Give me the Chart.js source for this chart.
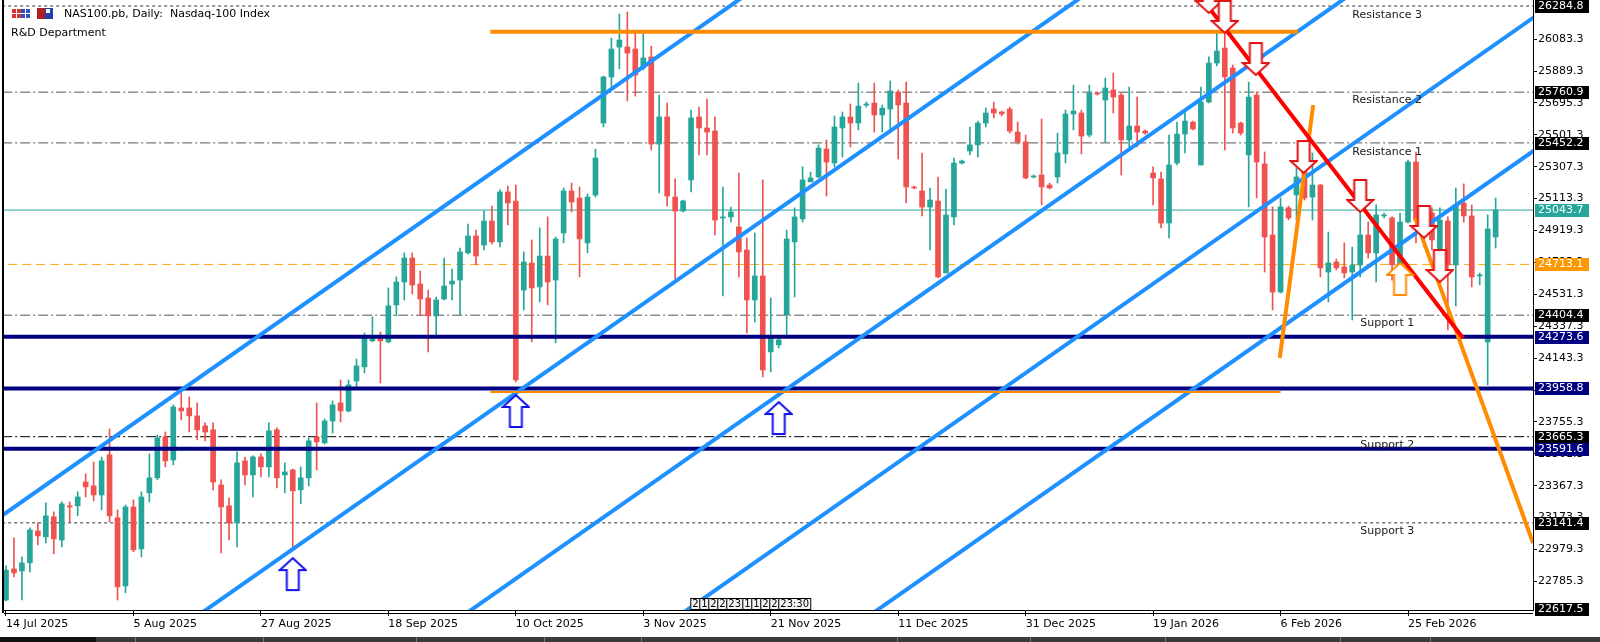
<!DOCTYPE html>
<html>
<head>
<meta charset="utf-8">
<script src="https://cdn.jsdelivr.net/npm/chart.js@4.4.1/dist/chart.umd.min.js"></script>
<style>
  html, body { margin: 0; padding: 0; background: #fff; overflow: hidden; }
  #wrap { width: 1600px; height: 642px; position: relative; }
</style>
</head>
<body>
<div id="wrap"><canvas id="chart" width="1600" height="642"></canvas></div>
<script>
// x axis labels, one every 16 bars
const dateLabels = ['14 Jul 2025','5 Aug 2025','27 Aug 2025','18 Sep 2025','10 Oct 2025','3 Nov 2025',
  '21 Nov 2025','11 Dec 2025','31 Dec 2025','19 Jan 2026','6 Feb 2026','25 Feb 2026'];
const labelBars = [0,16,32,48,64,80,96,112,128,144,160,176];

// price scale ticks
const priceTicks = [22785.3,22979.3,23173.3,23367.3,23561.3,23755.3,23949.3,24143.3,24337.3,
  24531.3,24725.3,24919.3,25113.3,25307.3,25501.3,25695.3,25889.3,26083.3];

// daily NAS100 candles
const opens = [22672,22861,22849,22898,23092,23056,23178,23037,23245,23245,
  23390,23366,23311,23555,23172,22758,23238,22983,23324,23415,
  23664,23524,23840,23840,23792,23731,23707,23372,23245,23141,
  23518,23433,23542,23482,23707,23433,23463,23342,23415,23664,
  23628,23761,23871,23822,24004,24090,24248,24260,24242,24467,
  24606,24752,24594,24509,24400,24503,24594,24618,24783,24886,
  24831,24977,24850,25154,25099,24557,24722,24576,24764,24618,
  24904,25160,25117,24844,25135,25573,25853,26035,26035,26023,
  25908,25975,25445,25610,25123,25038,25227,25610,25543,25525,
  24995,25002,24941,24801,24497,24643,24181,24224,24406,24850,
  24990,25215,25245,25415,25330,25543,25610,25573,25682,25695,
  25622,25658,25762,25695,25184,25160,25062,25099,24661,25002,
  25330,25403,25440,25573,25658,25640,25658,25518,25458,25245,
  25257,25196,25245,25385,25628,25634,25500,25756,25713,25774,
  25743,25470,25555,25524,25269,25233,24965,25330,25506,25579,
  25318,25701,25938,26029,25908,25573,25379,25743,25324,24892,
  24545,25057,25136,25366,25123,25196,24667,24728,24698,24667,
  24710,24892,24783,25008,24996,24710,24971,25336,25032,25026,
  24710,24977,24710,25087,25008,24643,24241,24880];
const highs = [22880,23050,22934,23111,23141,23263,23208,23269,23269,23330,
  23439,23512,23542,23713,23220,23250,23281,23330,23561,23676,
  23694,23859,23932,23907,23871,23749,23749,23403,23293,23573,
  23542,23549,23561,23749,23719,23506,23469,23482,23658,23871,
  23773,23883,24010,24010,24138,24296,24394,24302,24570,24637,
  24783,24783,24673,24557,24515,24752,24685,24813,24959,24922,
  25038,25068,25166,25190,25196,24789,24862,24935,25002,24880,
  25178,25208,25184,25142,25415,25859,26090,26236,26248,26120,
  26120,26041,25743,25695,25233,25105,25652,25670,25719,25610,
  25184,25062,25269,24874,24904,25227,24509,24278,24922,25057,
  25306,25275,25440,25470,25616,25640,25689,25816,25701,25816,
  25683,25829,25774,25822,25190,25391,25178,25245,25172,25360,
  25348,25549,25585,25664,25701,25646,25670,25579,25500,25257,
  25598,25208,25512,25652,25804,25652,25804,25762,25847,25877,
  25756,25792,25731,25531,25306,25275,25500,25579,25640,25585,
  25792,25975,26126,26126,25926,25579,25822,25762,25397,25063,
  25117,25068,25300,25440,25391,25200,24910,24746,24844,24819,
  25032,24971,25075,25026,25002,25026,25348,25397,25040,25057,
  25057,25002,25178,25203,25075,24661,25014,25117];
const lows = [22666,22813,22672,22843,23007,23019,22953,22995,23147,23184,
  23299,23275,23220,23147,22672,22716,22965,22934,23269,23403,
  23482,23494,23767,23694,23646,23640,23342,22958,23037,22995,
  23372,23299,23421,23421,23354,23324,22995,23257,23366,23463,
  23621,23688,23755,23816,23968,24053,24242,23992,24236,24400,
  24497,24533,24400,24181,24284,24497,24497,24406,24777,24710,
  24801,24837,24819,24953,23998,24436,24242,24485,24467,24236,
  24844,25032,24637,24783,25123,25549,25792,25902,25707,25737,
  25896,25409,25148,25068,24625,25032,25154,25379,25379,24892,
  24521,24971,24637,24296,24363,24029,24059,24205,24272,24515,
  24971,25215,25239,25129,25306,25366,25427,25531,25670,25518,
  25518,25531,25354,25087,25172,25008,24801,24631,24661,24953,
  25324,25379,25366,25549,25604,25616,25512,25445,25233,25239,
  25075,25172,25208,25330,25531,25385,25488,25743,25458,25634,
  25257,25427,25427,25506,25075,24935,24874,25318,25391,25531,
  25318,25695,25920,25409,25512,25500,25063,25117,24667,24436,
  24539,24983,24983,25105,24983,24637,24485,24679,24631,24375,
  24637,24752,24606,24996,24618,24679,24965,24844,24819,24801,
  24637,24314,24460,24971,24576,24588,23980,24813];
const closes = [22854,22837,22898,23098,23062,23184,23044,23257,23238,23299,
  23360,23311,23518,23184,22752,23238,22977,23299,23415,23658,
  23518,23846,23822,23792,23707,23694,23390,23238,23141,23506,
  23433,23542,23482,23701,23415,23451,23336,23415,23640,23634,
  23761,23859,23822,23980,24096,24266,24260,24248,24461,24606,
  24752,24588,24503,24400,24497,24582,24612,24789,24886,24764,
  24977,24850,25154,25087,24010,24728,24570,24764,24606,24868,
  25160,25093,24868,25123,25360,25853,26023,26078,25999,25865,
  25969,25445,25610,25129,25038,25099,25604,25543,25518,24983,
  25002,25032,24789,24497,24643,24071,24266,24254,24868,25002,
  25227,25239,25421,25336,25549,25610,25573,25676,25689,25622,
  25664,25768,25683,25184,25178,25062,25105,24637,25014,25330,
  25342,25440,25573,25634,25634,25628,25524,25458,25239,25251,
  25184,25178,25391,25628,25646,25494,25756,25749,25786,25731,
  25470,25555,25518,25512,25239,24965,25318,25506,25585,25537,
  25701,25938,26011,25853,25543,25512,25731,25336,24880,24545,
  25063,24996,25245,25117,25196,24692,24722,24692,24661,24710,
  24892,24783,25014,25014,24710,24971,25336,24983,24996,24862,
  24983,24710,25075,25008,24637,24649,24929,25044];

// horizontal levels
const navyLevels = [24273.6, 23958.8, 23591.6];
const dashDotLevels = [25760.9, 25452.2, 24404.4];
const blackDashDotLevels = [23665.3];
const dottedLevels = [26284.8, 23141.4];
const boxLevels = [26284.8, 25760.9, 25452.2, 24404.4, 23665.3, 23141.4, 22617.5];
const lastPrice = 25043.7;
const pivotLevel = 24713.1;

// parallel channel lines: [bar, price] pairs
const channelLines = [
  [[-1, 23168.6], [95, 26424]],
  [[20, 22439], [140, 26508]],
  [[50, 22327], [175, 26566]],
  [[80, 22425], [195, 26325]],
  [[100, 22293], [195, 25514]]
];
const orangeLines = [
  [[60.8, 26128], [162.2, 26128]],
  [[159.9, 24144], [164.1, 25683]],
  [[176.9, 24995], [191.7, 23019]]
];
const orangeThin = [[60.8, 23937], [160, 23937]];
const redLine = [[150.27, 26321], [182.9, 24266]];

// arrow marks: [bar, price of tip]
const blueUpArrows = [[36, 22927], [64, 23919], [97, 23876]];
const orangeUpArrows = [[175, 24722]];
const redDownArrows = [[151, 26242], [153, 26121], [156.9, 25865], [162.9, 25269], [170, 25032], [178, 24874], [180, 24606]];

// notes
const noteText = ['Resistance 3', 'Resistance 2', 'Resistance 1', 'Support 1', 'Support 2', 'Support 3'];
const noteBar = [169, 169, 169, 170, 170, 170];
const notePrice = [26230, 25713, 25397, 24357, 23615, 23092];
const timeBoxes = ['2', '1', '2', '2', '23', '1', '1', '2', '2', '23:30'];

const bull = '#26a69a', bear = '#ef5350';
const FONT = "'DejaVu Sans', sans-serif";
Chart.defaults.font.family = FONT;
Chart.defaults.font.size = 11;
Chart.defaults.color = '#000';

function arrowImg(up, stroke) {
  const c = document.createElement('canvas');
  c.width = 29; c.height = 70;
  const g = c.getContext('2d');
  g.beginPath();
  if (up) {
    g.moveTo(14.5, 35); g.lineTo(27.5, 47); g.lineTo(20.5, 47); g.lineTo(20.5, 67);
    g.lineTo(8.5, 67); g.lineTo(8.5, 47); g.lineTo(1.5, 47);
  } else {
    g.moveTo(8.5, 3); g.lineTo(20.5, 3); g.lineTo(20.5, 23); g.lineTo(27.5, 23);
    g.lineTo(14.5, 35); g.lineTo(1.5, 23); g.lineTo(8.5, 23);
  }
  g.closePath();
  g.fillStyle = '#fff'; g.fill();
  g.lineWidth = 2; g.strokeStyle = stroke; g.stroke();
  return c;
}

const pts = arr => arr.map(([x, y]) => ({ x, y }));
const seg = (pair, color, width, order, dash) => ({
  type: 'line', data: pts(pair), borderColor: color, borderWidth: width,
  borderDash: dash || [], pointRadius: 0, tension: 0, order
});
const hline = (p, color, width, order, dash) => seg([[-5, p], [200, p]], color, width, order, dash);
const marks = (arr, img) => ({
  type: 'line', data: pts(arr), showLine: false, pointStyle: img,
  pointRadius: 10, order: 0
});

const bars = opens.map((_, i) => i);
const colors = bars.map(i => closes[i] >= opens[i] ? bull : bear);

const datasets = [
  marks(redDownArrows, arrowImg(false, '#e01010')),
  marks(blueUpArrows, arrowImg(true, '#1010e8')),
  marks(orangeUpArrows, arrowImg(true, '#ff8c00')),
  seg(redLine, '#ff0000', 4, 1),
  ...orangeLines.map(l => seg(l, '#ff8c00', 4, 2)),
  seg(orangeThin, '#ff8c00', 2, 2),
  ...channelLines.map(l => seg(l, '#1e90ff', 4, 3)),
  ...navyLevels.map(p => hline(p, '#000080', 4, 4)),
  {
    type: 'bar', data: bars.map(i => ({ x: i, y: [opens[i], closes[i]] })),
    backgroundColor: colors, barThickness: 5, minBarLength: 1, grouped: false, order: 5
  },
  {
    type: 'bar', data: bars.map(i => ({ x: i, y: [lows[i], highs[i]] })),
    backgroundColor: colors, barThickness: 1, grouped: false, order: 6
  },
  ...dashDotLevels.map(p => hline(p, '#555', 1, 7, [10, 3, 2, 3])),
  ...blackDashDotLevels.map(p => hline(p, '#000', 1, 7, [10, 3, 2, 3])),
  ...dottedLevels.map(p => hline(p, '#333', 1, 7, [3, 3])),
  hline(pivotLevel, '#ffa500', 1, 7, [9, 5]),
  hline(lastPrice, '#26a69a', 1, 7)
];

const decor = {
  id: 'decor',
  beforeDraw(chart) {
    const ctx = chart.ctx;
    ctx.save(); ctx.fillStyle = '#fff'; ctx.fillRect(0, 0, chart.width, chart.height); ctx.restore();
  },
  afterDatasetsDraw(chart) {
    const ctx = chart.ctx, xs = chart.scales.x, ys = chart.scales.y;
    ctx.save();
    ctx.font = '11px ' + FONT;
    ctx.fillStyle = '#1a1a1a';
    ctx.textBaseline = 'middle';
    noteText.forEach((t, k) => ctx.fillText(t, xs.getPixelForValue(noteBar[k]), ys.getPixelForValue(notePrice[k])));
    // title block
    ctx.fillStyle = '#000';
    ctx.fillText('NAS100.pb, Daily:  Nasdaq-100 Index', 64, 14);
    ctx.fillText('R&D Department', 11, 33);
    ctx.fillStyle = '#d93030'; ctx.fillRect(12, 9, 9, 9);
    ctx.fillStyle = '#3050c0'; ctx.fillRect(21, 9, 9, 9);
    ctx.strokeStyle = '#fff'; ctx.lineWidth = 1;
    ctx.beginPath(); ctx.moveTo(12, 13.5); ctx.lineTo(30, 13.5); ctx.moveTo(16.5, 9); ctx.lineTo(16.5, 18); ctx.moveTo(25.5, 9); ctx.lineTo(25.5, 18); ctx.stroke();
    ctx.fillStyle = '#b02020'; ctx.fillRect(37, 8, 8, 11);
    ctx.fillStyle = '#2040b0'; ctx.fillRect(45, 8, 8, 11);
    ctx.fillStyle = '#fff'; ctx.fillRect(46, 9, 4, 4);
    // time boxes near bottom
    ctx.font = '10px ' + FONT;
    let bx = xs.getPixelForValue(85.9);
    timeBoxes.forEach(t => {
      const w = Math.round(ctx.measureText(t).width) + 3;
      ctx.fillStyle = '#f4f4f4'; ctx.fillRect(bx, 598, w, 12);
      ctx.strokeStyle = '#000'; ctx.strokeRect(bx + 0.5, 598.5, w, 11);
      ctx.fillStyle = '#000'; ctx.fillText(t, bx + 2, 604.5);
      bx += w;
    });
    ctx.restore();
  },
  afterDraw(chart) {
    const ctx = chart.ctx, a = chart.chartArea, ys = chart.scales.y;
    ctx.save();
    ctx.fillStyle = '#000';
    ctx.fillRect(2, 0, 2, a.bottom + 3);
    ctx.fillRect(a.left, a.bottom + 3, a.right - a.left, 1);
    ctx.font = '11px ' + FONT;
    ctx.textBaseline = 'middle';
    const box = (v, bg) => {
      const y = Math.round(ys.getPixelForValue(v));
      ctx.fillStyle = bg; ctx.fillRect(a.right + 2, y - 6, 54, 13);
      ctx.fillStyle = '#fff'; ctx.fillText(v.toFixed(1), a.right + 5, y + 0.5);
    };
    boxLevels.forEach(v => box(v, '#000'));
    navyLevels.forEach(v => box(v, '#000080'));
    box(lastPrice, '#26a69a');
    box(pivotLevel, '#ff9800');
    // bottom tab strip
    ctx.fillStyle = '#3c3c3c'; ctx.fillRect(0, 637, chart.width, 5);
    ctx.fillStyle = '#111'; ctx.fillRect(0, 637, 96, 5);
    ctx.fillStyle = '#777';
    [135, 263, 416, 544, 641, 897, 1030, 1165, 1340, 1430].forEach(x => ctx.fillRect(x, 637, 1, 5));
    ctx.restore();
  }
};

new Chart(document.getElementById('chart'), {
  type: 'bar',
  data: { datasets },
  options: {
    responsive: false,
    animation: false,
    events: [],
    layout: { autoPadding: false, padding: { left: 4, right: 0, top: 0, bottom: 0 } },
    plugins: { legend: { display: false }, tooltip: { enabled: false } },
    scales: {
      x: {
        type: 'linear', min: -0.251, max: 191.69, offset: false,
        grid: { offset: false, drawOnChartArea: false, tickLength: 6, color: '#000' },
        border: { display: true, color: '#000' },
        ticks: {
          autoSkip: false, maxRotation: 0, minRotation: 0, align: 'start', padding: 2,
          color: '#000', font: { size: 11 },
          callback: (v, idx) => dateLabels[idx]
        },
        afterBuildTicks: s => { s.ticks = labelBars.map(v => ({ value: v })); },
        afterFit: s => { s.height = 32; s.paddingLeft = 0; s.paddingRight = 0; }
      },
      y: {
        type: 'linear', position: 'right', min: 22611.3, max: 26321.3,
        grid: { drawOnChartArea: false, tickLength: 4, color: '#000' },
        border: { display: true, color: '#000' },
        ticks: { padding: 1, color: '#000', font: { size: 11 }, callback: v => v.toFixed(1) },
        afterBuildTicks: s => { s.ticks = priceTicks.map(v => ({ value: v })); },
        afterFit: s => { s.width = 67; s.paddingTop = 0; s.paddingBottom = 0; }
      }
    }
  },
  plugins: [decor]
});
</script>
</body>
</html>
